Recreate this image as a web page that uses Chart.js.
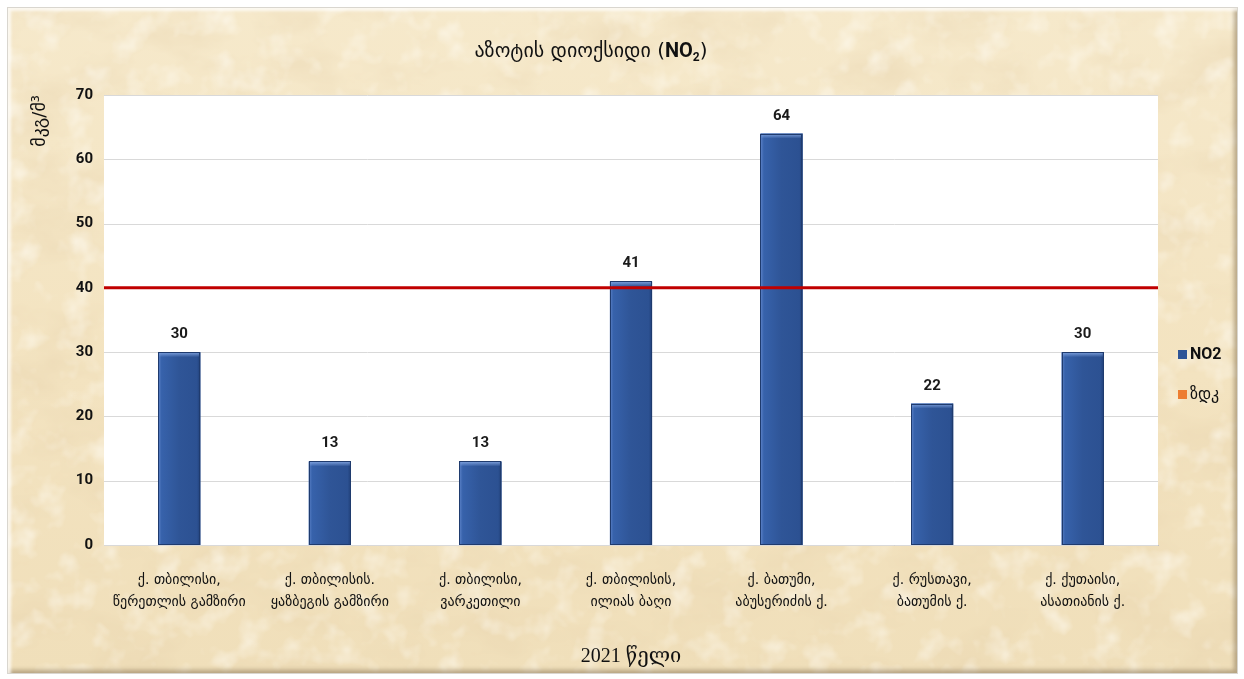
<!DOCTYPE html>
<html>
<head>
<meta charset="utf-8">
<script src="https://cdn.jsdelivr.net/npm/chart.js@4"></script>
<style>
  html, body { margin: 0; padding: 0; background: #ffffff; width: 1244px; height: 679px; overflow: hidden; }
  #panel {
    position: absolute; left: 8px; top: 8px; width: 1229px; height: 665px;
    background-color: #F4E5C4;
    background-image:
      url("data:image/svg+xml;utf8,<svg xmlns='http://www.w3.org/2000/svg' width='1229' height='665'><filter id='a'><feTurbulence type='fractalNoise' baseFrequency='0.012 0.02' numOctaves='5' seed='7'/><feColorMatrix values='0 0 0 0 0.80 0 0 0 0 0.65 0 0 0 0 0.42 1.0 0 0 0 -0.45'/></filter><filter id='b'><feTurbulence type='fractalNoise' baseFrequency='0.035' numOctaves='3' seed='19'/><feColorMatrix values='0 0 0 0 1 0 0 0 0 0.98 0 0 0 0 0.92 0 -1.4 0 0 0.70'/></filter><rect width='100%' height='100%' filter='url(%23a)'/><rect width='100%' height='100%' filter='url(%23b)'/></svg>"),
      linear-gradient(180deg, #F6E9CB 0%, #F3E3C0 55%, #F0DFBA 100%);
    background-size: 100% 100%, 100% 100%;
    box-shadow: inset 3px 3px 3px rgba(255, 255, 255, 0.75), inset -3px -3px 4px rgba(110, 90, 60, 0.45), 0 0 0 1px #d9d6cf;
  }
  #wrap { position: absolute; left: 0; top: 0; width: 1244px; height: 679px; }
</style>
</head>
<body>
<div id="panel"></div>
<div id="wrap"><canvas id="chart" width="1244" height="679"></canvas></div>
<script>
// Monitoring stations (two-line labels)
const categories = [
  ['ქ. თბილისი,', 'წერეთლის გამზირი'],
  ['ქ. თბილისის.', 'ყაზბეგის გამზირი'],
  ['ქ. თბილისი,', 'ვარკეთილი'],
  ['ქ. თბილისის,', 'ილიას ბაღი'],
  ['ქ. ბათუმი,', 'აბუსერიძის ქ.'],
  ['ქ. რუსთავი,', 'ბათუმის ქ.'],
  ['ქ. ქუთაისი,', 'ასათიანის ქ.']
];
// Annual mean NO2, µg/m³
const no2Values = [30, 13, 13, 41, 64, 22, 30];
// Permissible concentration limit (ზდკ)
const limitValues = [40, 40];
const yTickValues = [0, 10, 20, 30, 40, 50, 60, 70];

const seriesNames = ['NO2', 'ზდკ'];
const legendColors = ['#2F5597', '#ED7D31'];

const geoFont = "'DejaVu Sans', 'Noto Sans', sans-serif";
const numFont = "'Liberation Sans Narrow', 'Roboto', 'Liberation Sans', sans-serif";

const decor = {
  id: 'decor',
  beforeDatasetsDraw(chart) {
    const { ctx, chartArea: a } = chart;
    ctx.save();
    ctx.fillStyle = '#ffffff';
    ctx.fillRect(a.left, a.top, a.right - a.left, a.bottom - a.top);
    // horizontal grid over the white plot area
    const y = chart.scales.y;
    ctx.strokeStyle = '#D9D9D9';
    ctx.lineWidth = 1;
    yTickValues.forEach(v => {
      const py = Math.round(y.getPixelForValue(v)) + 0.5;
      ctx.beginPath();
      ctx.moveTo(a.left, py);
      ctx.lineTo(a.right, py);
      ctx.stroke();
    });
    ctx.restore();
  },
  afterDatasetDraw(chart, args) {
    if (args.index !== 0) return;
    const { ctx } = chart;
    const meta = chart.getDatasetMeta(0);
    ctx.save();
    meta.data.forEach(el => {
      const l = el.x - el.width / 2, r = el.x + el.width / 2;
      const t = el.y, b = el.base;
      // bevelled fill
      const g = ctx.createLinearGradient(l, 0, r, 0);
      g.addColorStop(0, '#5C82C8');
      g.addColorStop(0.08, '#3762AB');
      g.addColorStop(0.5, '#2F5597');
      g.addColorStop(0.92, '#2C5192');
      g.addColorStop(1, '#203F78');
      ctx.fillStyle = g;
      ctx.fillRect(l, t, r - l, b - t);
      const gt = ctx.createLinearGradient(0, t, 0, t + 5);
      gt.addColorStop(0, 'rgba(130,165,225,0.95)');
      gt.addColorStop(1, 'rgba(130,165,225,0)');
      ctx.fillStyle = gt;
      ctx.fillRect(l + 1, t, r - l - 2, 5);
      ctx.strokeStyle = '#1F3B6E';
      ctx.lineWidth = 1;
      ctx.strokeRect(Math.round(l) + 0.5, Math.round(t) + 0.5, Math.round(r - l) - 1, Math.round(b - t) - 1);
    });
    ctx.restore();
  },
  afterDatasetsDraw(chart) {
    const { ctx } = chart;
    const meta = chart.getDatasetMeta(0);
    ctx.save();
    ctx.fillStyle = '#1a1a1a';
    ctx.font = 'bold 15px ' + numFont;
    ctx.textAlign = 'center';
    ctx.textBaseline = 'alphabetic';
    meta.data.forEach((el, i) => {
      ctx.fillText(String(no2Values[i]), el.x, el.y - 14);
    });
    ctx.restore();
  },
  afterDraw(chart) {
    const { ctx } = chart;
    ctx.save();
    // Title: Georgian text + bold NO with subscript 2
    const part1 = 'აზოტის დიოქსიდი (';
    const partNO = 'NO';
    const partSub = '2';
    const part2 = ')';
    const f1 = '20px ' + geoFont;
    const fB = 'bold 20px ' + numFont;
    const fS = 'bold 12px ' + numFont;
    ctx.font = f1; const w1 = ctx.measureText(part1).width; const w4 = ctx.measureText(part2).width;
    ctx.font = fB; const w2 = ctx.measureText(partNO).width;
    ctx.font = fS; const w3 = ctx.measureText(partSub).width;
    let x = 591 - (w1 + w2 + w3 + w4) / 2;
    const by = 57;
    ctx.fillStyle = '#111';
    ctx.textBaseline = 'alphabetic';
    ctx.textAlign = 'left';
    ctx.font = f1; ctx.fillText(part1, x, by); x += w1;
    ctx.font = fB; ctx.fillText(partNO, x, by); x += w2;
    ctx.font = fS; ctx.fillText(partSub, x, by + 4); x += w3;
    ctx.font = f1; ctx.fillText(part2, x, by);

    // Legend
    const ly = [355, 395];
    seriesNames.forEach((name, i) => {
      ctx.fillStyle = legendColors[i];
      ctx.fillRect(1178, ly[i] - 5, 9, 9);
      ctx.fillStyle = '#111';
      ctx.textBaseline = 'middle';
      ctx.font = i === 0 ? 'bold 16px ' + numFont : '16px ' + geoFont;
      ctx.fillText(name, 1190, ly[i]);
    });
    ctx.restore();
  }
};

new Chart(document.getElementById('chart'), {
  data: {
    labels: categories,
    datasets: [
      {
        type: 'bar',
        label: seriesNames[0],
        data: no2Values,
        backgroundColor: '#2F5597',
        borderWidth: 0,
        grouped: false,
        categoryPercentage: 1,
        barPercentage: 0.28,
        order: 1
      },
      {
        type: 'line',
        label: seriesNames[1],
        xAxisID: 'xLimit',
        data: limitValues.map((v, i) => ({ x: i, y: v })),
        borderColor: '#C00000',
        backgroundColor: '#ED7D31',
        borderWidth: 3,
        pointRadius: 0,
        order: 0
      }
    ]
  },
  options: {
    responsive: false,
    animation: false,
    devicePixelRatio: 1,
    layout: { padding: { top: 95, right: 86, bottom: 10, left: 28 } },
    plugins: {
      legend: { display: false },
      title: { display: false },
      tooltip: { enabled: false }
    },
    scales: {
      x: {
        type: 'category',
        grid: { display: false },
        border: { display: true, color: '#BFBFBF', width: 1 },
        ticks: {
          color: '#111',
          font: { family: geoFont, size: 14, lineHeight: 1.6 },
          padding: 16,
          maxRotation: 0,
          autoSkip: false
        },
        title: {
          display: true,
          text: '2021 წელი',
          color: '#111',
          font: { family: "'Liberation Serif', 'DejaVu Serif', serif", size: 20 },
          padding: { top: 0, bottom: 0 }
        },
        afterFit(scale) { scale.height = 679 - 10 - 545; }
      },
      xLimit: {
        type: 'linear',
        min: 0,
        max: 1,
        display: false
      },
      y: {
        min: 0,
        max: 70,
        grid: { display: false, drawTicks: false },
        border: { display: false },
        ticks: {
          stepSize: 10,
          color: '#111',
          font: { family: numFont, size: 15, weight: 'bold' },
          padding: 11
        },
        title: {
          display: true,
          text: 'მკგ/მ³',
          align: 'end',
          color: '#111',
          font: { family: geoFont, size: 18 },
          padding: { top: 2, bottom: 0 }
        },
        afterFit(scale) { scale.width = 104 - 28; }
      }
    }
  },
  plugins: [decor]
});
</script>
</body>
</html>
